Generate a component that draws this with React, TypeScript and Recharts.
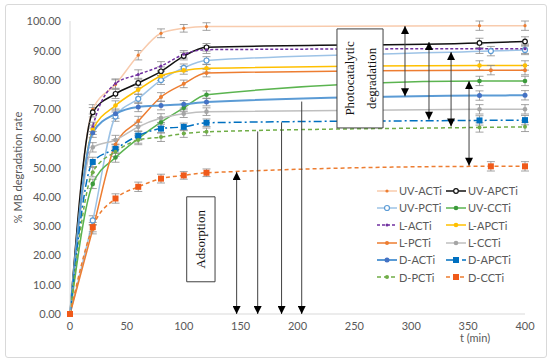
import React from 'react';
import { LineChart, Line, XAxis, YAxis, ErrorBar, ReferenceLine, ReferenceArea } from 'recharts';

// sampling times (min); three series were sampled at 370 instead of 360
const timesA = [0, 20, 40, 60, 80, 100, 120, 360, 400];
const timesB = [0, 20, 40, 60, 80, 100, 120, 370, 400];
const errs = [0, 1.6, 1.6, 1.6, 1.5, 1.3, 1.3, 1.6, 1.6];

const uvACTi = [0, 70, 78.5, 88.5, 96, 97.7, 98.3, 98.6, 98.6];
const uvAPCTi = [0, 69, 75.3, 79, 83, 88.2, 91.2, 92.7, 93.2];
const uvPCTi = [0, 32, 67.5, 73.6, 80, 84.2, 86.7, 89.9, 90.3];
const uvCCTi = [0, 44.5, 53.5, 60, 65.6, 70.5, 75, 79.7, 79.7];
const lACTi = [0, 64, 78.8, 81.9, 84.8, 88.8, 90.4, 90.7, 90.7];
const lAPCTi = [0, 63, 71.3, 76.7, 81.4, 83.3, 84, 85, 85];
const lPCTi = [0, 29, 58, 66, 74.2, 78.7, 82.4, 83.4, 83.4];
const lCCTi = [0, 57, 59.5, 64, 67, 68.5, 69.2, 70, 70];
const dACTi = [0, 62, 68.5, 70.8, 71.3, 71.7, 72.5, 74.7, 74.8];
const dAPCTi = [0, 52, 56.5, 61, 63.4, 64, 65.4, 66.2, 66.3];
const dPCTi = [0, 48.5, 55.5, 59.5, 60.5, 61.7, 62.3, 63.8, 64];
const dCCTi = [0, 29.7, 39.5, 43.5, 46.3, 47.4, 48.3, 50.5, 50.5];

const yTicks = [0, 10, 20, 30, 40, 50, 60, 70, 80, 90, 100];
const xTicks = [0, 50, 100, 150, 200, 250, 300, 350, 400];

// annotation arrows: [t, from, to]
const adsorptionArrows = [
  [146.5, 0, 48.5],
  [165, 0, 62.3],
  [186, 0, 65.4],
  [203.7, 0, 72.5],
];
const photoArrows = [
  [294.5, 98.3, 74.3],
  [315.6, 92.8, 66.3],
  [335, 89.4, 64],
  [350.8, 79.5, 50.6],
];

const build = (t: number[], v: number[]) => t.map((x, i) => ({ t: x, v: v[i], e: errs[i] }));

type Mk = { type: 'circle' | 'square' | 'none'; r: number; fill: string; stroke?: string };

const series: { name: string; t: number[]; v: number[]; color: string; w: number; dash?: string; mk: Mk }[] = [
  { name: 'UV-ACTi', t: timesA, v: uvACTi, color: '#F8CBAD', w: 1.5, mk: { type: 'circle', r: 1.6, fill: '#ED7D31' } },
  { name: 'UV-APCTi', t: timesA, v: uvAPCTi, color: '#111111', w: 1.5, mk: { type: 'circle', r: 2.3, fill: '#fff', stroke: '#111' } },
  { name: 'UV-PCTi', t: timesB, v: uvPCTi, color: '#9DC3E6', w: 1.5, mk: { type: 'circle', r: 2.5, fill: '#fff', stroke: '#5B9BD5' } },
  { name: 'UV-CCTi', t: timesA, v: uvCCTi, color: '#5BB450', w: 1.5, mk: { type: 'circle', r: 2.3, fill: '#3C9A3C' } },
  { name: 'L-ACTi', t: timesA, v: lACTi, color: '#7030A0', w: 1.5, dash: '3 2', mk: { type: 'circle', r: 1.5, fill: '#7030A0' } },
  { name: 'L-APCTi', t: timesA, v: lAPCTi, color: '#FFC000', w: 1.5, mk: { type: 'circle', r: 2.3, fill: '#FFC000' } },
  { name: 'L-PCTi', t: timesB, v: lPCTi, color: '#ED7D31', w: 1.5, mk: { type: 'circle', r: 2, fill: '#ED7D31' } },
  { name: 'L-CCTi', t: timesA, v: lCCTi, color: '#BFBFBF', w: 1.5, mk: { type: 'circle', r: 2.3, fill: '#A5A5A5' } },
  { name: 'D-ACTi', t: timesA, v: dACTi, color: '#5B9BD5', w: 2, mk: { type: 'circle', r: 2.5, fill: '#4472C4' } },
  { name: 'D-APCTi', t: timesA, v: dAPCTi, color: '#0070C0', w: 1.5, dash: '8 3 2 3', mk: { type: 'square', r: 3, fill: '#0070C0' } },
  { name: 'D-PCTi', t: timesA, v: dPCTi, color: '#70AD47', w: 1.5, dash: '4 3', mk: { type: 'circle', r: 2, fill: '#70AD47' } },
  { name: 'D-CCTi', t: timesB, v: dCCTi, color: '#ED7D31', w: 1.5, dash: '4 3', mk: { type: 'square', r: 3, fill: '#F05A1A' } },
];

const makeDot = (mk: Mk) => (p: any) => {
  const { cx, cy, index } = p;
  if (cx == null || cy == null || mk.type === 'none') return <g key={index} />;
  if (mk.type === 'square')
    return <rect key={index} x={cx - mk.r} y={cy - mk.r} width={mk.r * 2} height={mk.r * 2} fill={mk.fill} />;
  return <circle key={index} cx={cx} cy={cy} r={mk.r} fill={mk.fill} stroke={mk.stroke || 'none'} strokeWidth={1.2} />;
};

const serif = '"Liberation Serif", "Times New Roman", serif';
const sans = 'Lato, "Open Sans", sans-serif';
const W = 550;
const H = 363;
const margin = { top: 21, right: 25, bottom: 19, left: 10 };

// rotated text, one column per line, centred in the reference area
const BoxText = ({ viewBox, lines }: any) => {
  if (!viewBox) return null;
  const cx = viewBox.x + viewBox.width / 2;
  const cy = viewBox.y + viewBox.height / 2;
  const gap = 22;
  const first = -((lines.length - 1) / 2) * gap;
  return (
    <g transform={`translate(${cx} ${cy}) rotate(-90)`}>
      {lines.map((s: string, i: number) => (
        <text key={i} x={0} y={first + i * gap + 4.5} textAnchor="middle" fontFamily={serif} fontSize={13} fill="#111">
          {s}
        </text>
      ))}
    </g>
  );
};

const Swatch = ({ s }: any) => (
  <svg width={20} height={10} style={{ display: 'block' }}>
    <line x1={0} y1={5} x2={20} y2={5} stroke={s.color} strokeWidth={s.w} strokeDasharray={s.dash} />
    {s.mk.type === 'square' ? (
      <rect x={10 - s.mk.r} y={5 - s.mk.r} width={s.mk.r * 2} height={s.mk.r * 2} fill={s.mk.fill} />
    ) : (
      <circle cx={10} cy={5} r={s.mk.r} fill={s.mk.fill} stroke={s.mk.stroke || 'none'} strokeWidth={1.2} />
    )}
  </svg>
);

const Legend2 = () => (
  <div style={{ position: 'absolute', left: 377, top: 182, display: 'grid', gridTemplateColumns: '69px 80px', fontFamily: sans, fontSize: 11, color: '#595959' }}>
    {series.map((s) => (
      <div key={s.name} style={{ display: 'flex', alignItems: 'center', height: 17.3 }}>
        <Swatch s={s} />
        <span style={{ marginLeft: 2 }}>{s.name}</span>
      </div>
    ))}
  </div>
);

// same axes in both charts so the overlay shares the plot geometry
const axes = (visible: boolean) => [
  <XAxis key="x" type="number" dataKey="t" domain={[0, 400]} ticks={xTicks} tickLine={false} allowDuplicatedCategory={false}
    axisLine={visible ? { stroke: '#D9D9D9' } : false} height={30} tickMargin={2}
    tick={visible ? { fill: '#595959', fontSize: 11, fontFamily: sans } : false}
    label={visible ? (p: any) => (
      <text x={p.viewBox.x + p.viewBox.width - 50} y={p.viewBox.y + 28} textAnchor="middle" fill="#595959" fontSize={11} fontFamily={sans}>
        t (min)
      </text>
    ) : undefined} />,
  <YAxis key="y" type="number" domain={[0, 100]} ticks={yTicks} tickLine={false} width={60}
    axisLine={visible ? { stroke: '#D9D9D9' } : false} tickFormatter={(v: number) => v.toFixed(2)} tickMargin={3}
    tick={visible ? { fill: '#595959', fontSize: 11, fontFamily: sans } : false}
    label={visible ? { value: '% MB degradation rate', angle: -90, position: 'insideLeft', offset: 8, style: { textAnchor: 'middle', fill: '#595959', fontSize: 11, fontFamily: sans } } : undefined} />,
];

const App = () => (
  <div style={{ position: 'absolute', left: 0, top: 0, width: W, height: H, background: '#fff' }}>
    <svg width={0} height={0} style={{ position: 'absolute' }}>
      <defs>
        <marker id="ah" viewBox="0 0 10 10" refX={10} refY={5} markerWidth={9} markerHeight={8}
          markerUnits="userSpaceOnUse" orient="auto-start-reverse">
          <path d="M0,0 L10,5 L0,10 z" fill="#000" />
        </marker>
      </defs>
    </svg>
    <div style={{ position: 'absolute', left: 5, top: 4, width: 540, height: 352, border: '1px solid #D9D9D9', borderRadius: 3 }} />
    <div style={{ position: 'absolute', left: 0, top: 0 }}>
      <LineChart width={W} height={H} margin={margin}>
        {axes(true)}
        {series.map((s) => (
          <Line key={s.name} data={build(s.t, s.v)} dataKey="v" name={s.name} type="monotone" stroke={s.color}
            strokeWidth={s.w} strokeDasharray={s.dash} dot={makeDot(s.mk)} activeDot={false} isAnimationActive={false}>
            <ErrorBar dataKey="e" direction="y" width={4} stroke="#8C8C8C" strokeWidth={0.8} />
          </Line>
        ))}
      </LineChart>
    </div>
    <div style={{ position: 'absolute', left: 0, top: 0, pointerEvents: 'none' }}>
      <LineChart width={W} height={H} margin={margin} data={[{ t: 0, v: 0 }, { t: 400, v: 100 }]}>
        {axes(false)}
        <Line dataKey="v" stroke="none" dot={false} activeDot={false} isAnimationActive={false} />
        {adsorptionArrows.map(([t, a, b], i) => (
          <ReferenceLine key={'a' + i} segment={[{ x: t, y: a }, { x: t, y: b }]} stroke="#404040" strokeWidth={1}
            markerEnd={i === 0 ? 'url(#ah)' : undefined} markerStart="url(#ah)" />
        ))}
        {photoArrows.map(([t, a, b], i) => (
          <ReferenceLine key={'p' + i} segment={[{ x: t, y: a }, { x: t, y: b }]} stroke="#404040" strokeWidth={1}
            markerEnd="url(#ah)" markerStart="url(#ah)" />
        ))}
        <ReferenceArea x1={102.6} x2={127.5} y1={11} y2={40} fill="#fff" fillOpacity={1} stroke="#404040" strokeWidth={1}
          label={(p: any) => <BoxText viewBox={p.viewBox} lines={['Adsorption']} />} />
        <ReferenceArea x1={234.7} x2={275.2} y1={63.5} y2={97.3} fill="#fff" fillOpacity={1} stroke="#404040" strokeWidth={1}
          label={(p: any) => <BoxText viewBox={p.viewBox} lines={['Photocatalytic', 'degradation']} />} />
      </LineChart>
    </div>
    <Legend2 />
  </div>
);

export default App;
